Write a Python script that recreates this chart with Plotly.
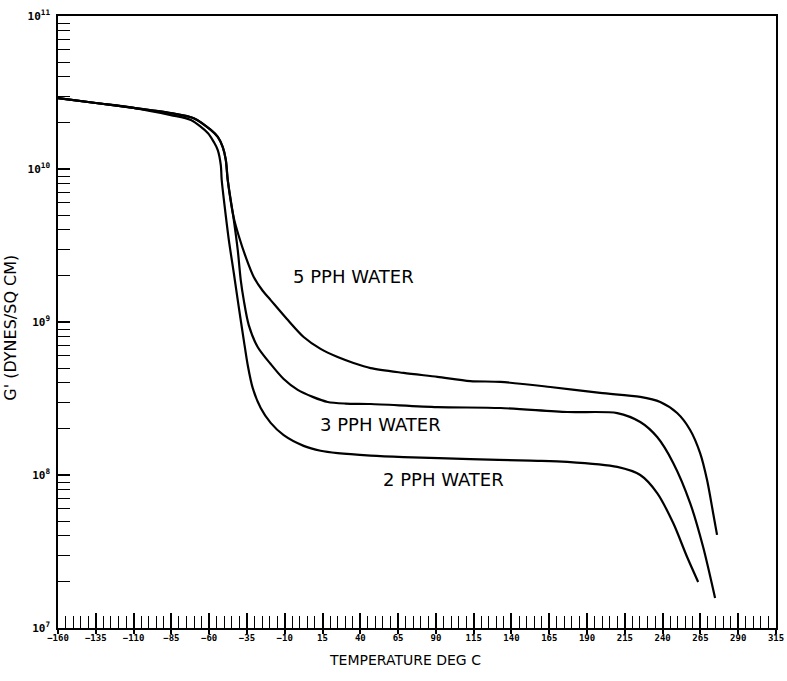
import math
import plotly.graph_objects as go

# ---- data (temperature in deg C, G' in dynes/sq cm) ----
t_2pph = [-160, -135, -110, -85.3, -72.1, -60.9, -56.9, -54.3, -52.3, -51.7, -49.7, -47.0,
          -43.7, -40.4, -37.1, -34.5, -31.2, -25.9, -19.3, -10.7, 2.5, 13.7, 25.0, 46.8,
          68.6, 112.8, 152.5, 176.9, 210.0, 225.2, 236.4, 247.0, 256.2, 263.5]
g_2pph = [2.91e10, 2.70e10, 2.51e10, 2.25e10, 2.09e10, 1.72e10, 1.50e10, 1.33e10, 1.06e10, 8.47e9,
          5.65e9, 3.44e9, 2.09e9, 1.25e9, 7.62e8, 5.24e8, 3.71e8, 2.74e8, 2.19e8, 1.82e8,
          1.55e8, 1.44e8, 1.39e8, 1.34e8, 1.31e8, 1.27e8, 1.24e8, 1.22e8, 1.13e8, 1.00e8,
          7.62e7, 4.85e7, 2.91e7, 2.00e7]

t_3pph = [-160, -135, -110, -85.3, -70.2, -58.9, -54.3, -51.0, -49.0, -47.7, -43.7, -41.1,
          -39.1, -37.1, -33.8, -27.9, -19.3, -10.7, -1.4, 8.5, 18.4, 30.3, 46.8, 91.0,
          132.7, 176.9, 210.0, 225.2, 236.4, 247.0, 258.2, 266.8, 274.7]
g_3pph = [2.91e10, 2.70e10, 2.51e10, 2.32e10, 2.15e10, 1.80e10, 1.62e10, 1.39e10, 1.15e10, 8.47e9,
          4.65e9, 2.96e9, 1.88e9, 1.39e9, 9.55e8, 6.87e8, 5.31e8, 4.24e8, 3.60e8, 3.24e8,
          3.00e8, 2.93e8, 2.91e8, 2.78e8, 2.74e8, 2.58e8, 2.54e8, 2.22e8, 1.77e8, 1.20e8,
          6.56e7, 3.38e7, 1.57e7]

t_5pph = [-160, -135, -110, -85.3, -70.2, -58.9, -54.3, -51.0, -49.0, -47.7, -43.7, -40.4,
          -35.8, -30.5, -24.6, -19.3, -8.7, 2.5, 13.7, 25.0, 35.5, 46.8, 68.6, 91.0, 112.8,
          132.7, 165.7, 198.7, 225.2, 238.4, 249.6, 258.2, 264.8, 269.4, 273.4, 276.0]
g_5pph = [2.91e10, 2.70e10, 2.51e10, 2.32e10, 2.15e10, 1.80e10, 1.62e10, 1.39e10, 1.15e10, 8.47e9,
          4.79e9, 3.65e9, 2.66e9, 1.97e9, 1.60e9, 1.39e9, 1.05e9, 7.98e8, 6.67e8, 5.90e8,
          5.40e8, 5.00e8, 4.65e8, 4.38e8, 4.11e8, 4.06e8, 3.76e8, 3.44e8, 3.24e8, 3.00e8,
          2.54e8, 1.97e8, 1.39e8, 9.27e7, 5.65e7, 4.06e7]

x_ticks = [-160, -135, -110, -85, -60, -35, -10, 15, 40, 65, 90, 115, 140, 165, 190, 215, 240, 265, 290, 315]
y_ticks = [1e7, 1e8, 1e9, 1e10, 1e11]
y_tick_text = ["10<sup>7</sup>", "10<sup>8</sup>", "10<sup>9</sup>", "10<sup>10</sup>", "10<sup>11</sup>"]
y_minor_mult = [2, 3, 4, 5, 6, 7, 8, 9]

labels = ["5 PPH WATER", "3 PPH WATER", "2 PPH WATER"]
label_x = [35.5, 53.4, 95.0]
label_y = [1.97e9, 2.15e8, 9.4e7]

x_title = "TEMPERATURE DEG C"
y_title = "G' (DYNES/SQ CM)"

fig = go.Figure()
line = dict(color="black", width=2.2, shape="spline", smoothing=0.8)
for t, g in [(t_2pph, g_2pph), (t_3pph, g_3pph), (t_5pph, g_5pph)]:
    fig.add_trace(go.Scatter(x=t, y=g, mode="lines", line=line, showlegend=False, hoverinfo="skip"))

# dummy trace so the overlay axis (outer part of the major x ticks) is drawn
fig.add_trace(go.Scatter(x=[None], y=[None], xaxis="x2", yaxis="y", showlegend=False, hoverinfo="skip"))

minor_y = [m * d for d in y_ticks[:-1] for m in y_minor_mult]

xtickfont = dict(family="DejaVu Sans Mono", size=9, color="black", weight="bold")
ytickfont = dict(family="DejaVu Sans Mono", size=11, color="black", weight="bold")

fig.update_layout(
    template="none",
    width=787, height=681,
    margin=dict(l=58, r=11, t=16, b=53, autoexpand=False),
    paper_bgcolor="white", plot_bgcolor="white",
    font=dict(family="DejaVu Sans", color="black"),
    xaxis=dict(
        range=[-160, 315], tickmode="array", tickvals=x_ticks, automargin=False,
        ticks="inside", ticklen=15, tickwidth=1.5, tickcolor="black",
        showgrid=False, zeroline=False, showline=True, linecolor="black", linewidth=1.5,
        mirror=True, tickfont=xtickfont, ticklabeloverflow="allow",
        minor=dict(dtick=5, tick0=-160, ticks="inside", ticklen=12, tickwidth=1, tickcolor="black", showgrid=False),
    ),
    xaxis2=dict(
        range=[-160, 315], overlaying="x", anchor="y", side="bottom", automargin=False,
        tickmode="array", tickvals=x_ticks, showticklabels=False,
        ticks="outside", ticklen=5, tickwidth=1.5, tickcolor="black",
        showgrid=False, zeroline=False, showline=False,
    ),
    yaxis=dict(
        type="log", range=[7, 11], tickmode="array", tickvals=y_ticks, ticktext=y_tick_text,
        automargin=False,
        ticks="inside", ticklen=12, tickwidth=1.5, tickcolor="black",
        showgrid=False, zeroline=False, showline=True, linecolor="black", linewidth=1.5,
        mirror=True, tickfont=ytickfont, ticklabelstandoff=4,
        minor=dict(tickmode="array", tickvals=minor_y, ticks="inside", ticklen=12, tickwidth=1.2,
                   tickcolor="black", showgrid=False),
    ),
)

for txt, x, y in zip(labels, label_x, label_y):
    fig.add_annotation(x=x, y=math.log10(y), xref="x", yref="y", text=txt, showarrow=False,
                       font=dict(size=18, family="DejaVu Sans", color="black"))

fig.add_annotation(x=0.483, y=-0.052, xref="paper", yref="paper", text=x_title, showarrow=False,
                   xanchor="center", yanchor="middle", font=dict(size=14, family="DejaVu Sans"))
fig.add_annotation(x=-0.066, y=0.49, xref="paper", yref="paper", text=y_title, showarrow=False,
                   textangle=-90, xanchor="center", yanchor="middle",
                   font=dict(size=16, family="DejaVu Sans"))

# remove the default page margin so the figure fills the window exactly; hide the mode bar
fig.write_html("out.html", config={"displayModeBar": False},
               post_script="document.body.style.margin='0';")
